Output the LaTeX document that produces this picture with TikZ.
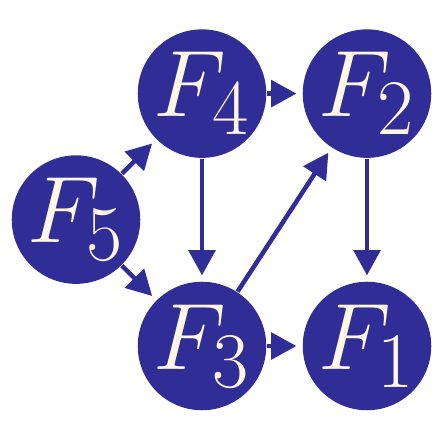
\documentclass[tikz,border=0pt]{standalone}
\usepackage{xcolor}
\usepackage{tikz}
\usetikzlibrary{arrows.meta}

\definecolor{azul}{RGB}{48,46,150}
\definecolor{crema}{RGB}{255,247,230}

\begin{document}
\begin{tikzpicture}[
    font=\Huge,
    nodo/.style={circle, fill=azul, text=crema, minimum size=1.19cm,
                 inner sep=0pt, scale=2.7},
    flecha/.style={-{Triangle[length=0.63cm, width=0.66cm]}, azul,
                   line width=3.2pt, shorten >=0.14cm}
  ]
  \useasboundingbox (0,0) rectangle (11,11);

  % --- Nodos ---
  \node[nodo] (f5) at (1.9,5.51)   {$F_5$};
  \node[nodo] (f4) at (5.05,8.66)  {$F_4$};
  \node[nodo] (f2) at (9.175,8.66) {$F_2$};
  \node[nodo] (f3) at (5.05,2.35)  {$F_3$};
  \node[nodo] (f1) at (9.175,2.35) {$F_1$};

  % --- Aristas ---
  \draw[flecha] (f5) -- (f4);
  \draw[flecha] (f5) -- (f3);
  \draw[flecha] (f4) -- (f2);
  \draw[flecha] (f4) -- (f3);
  \draw[flecha] (f3) -- (f2);
  \draw[flecha] (f3) -- (f1);
  \draw[flecha] (f2) -- (f1);

\end{tikzpicture}
\end{document}
